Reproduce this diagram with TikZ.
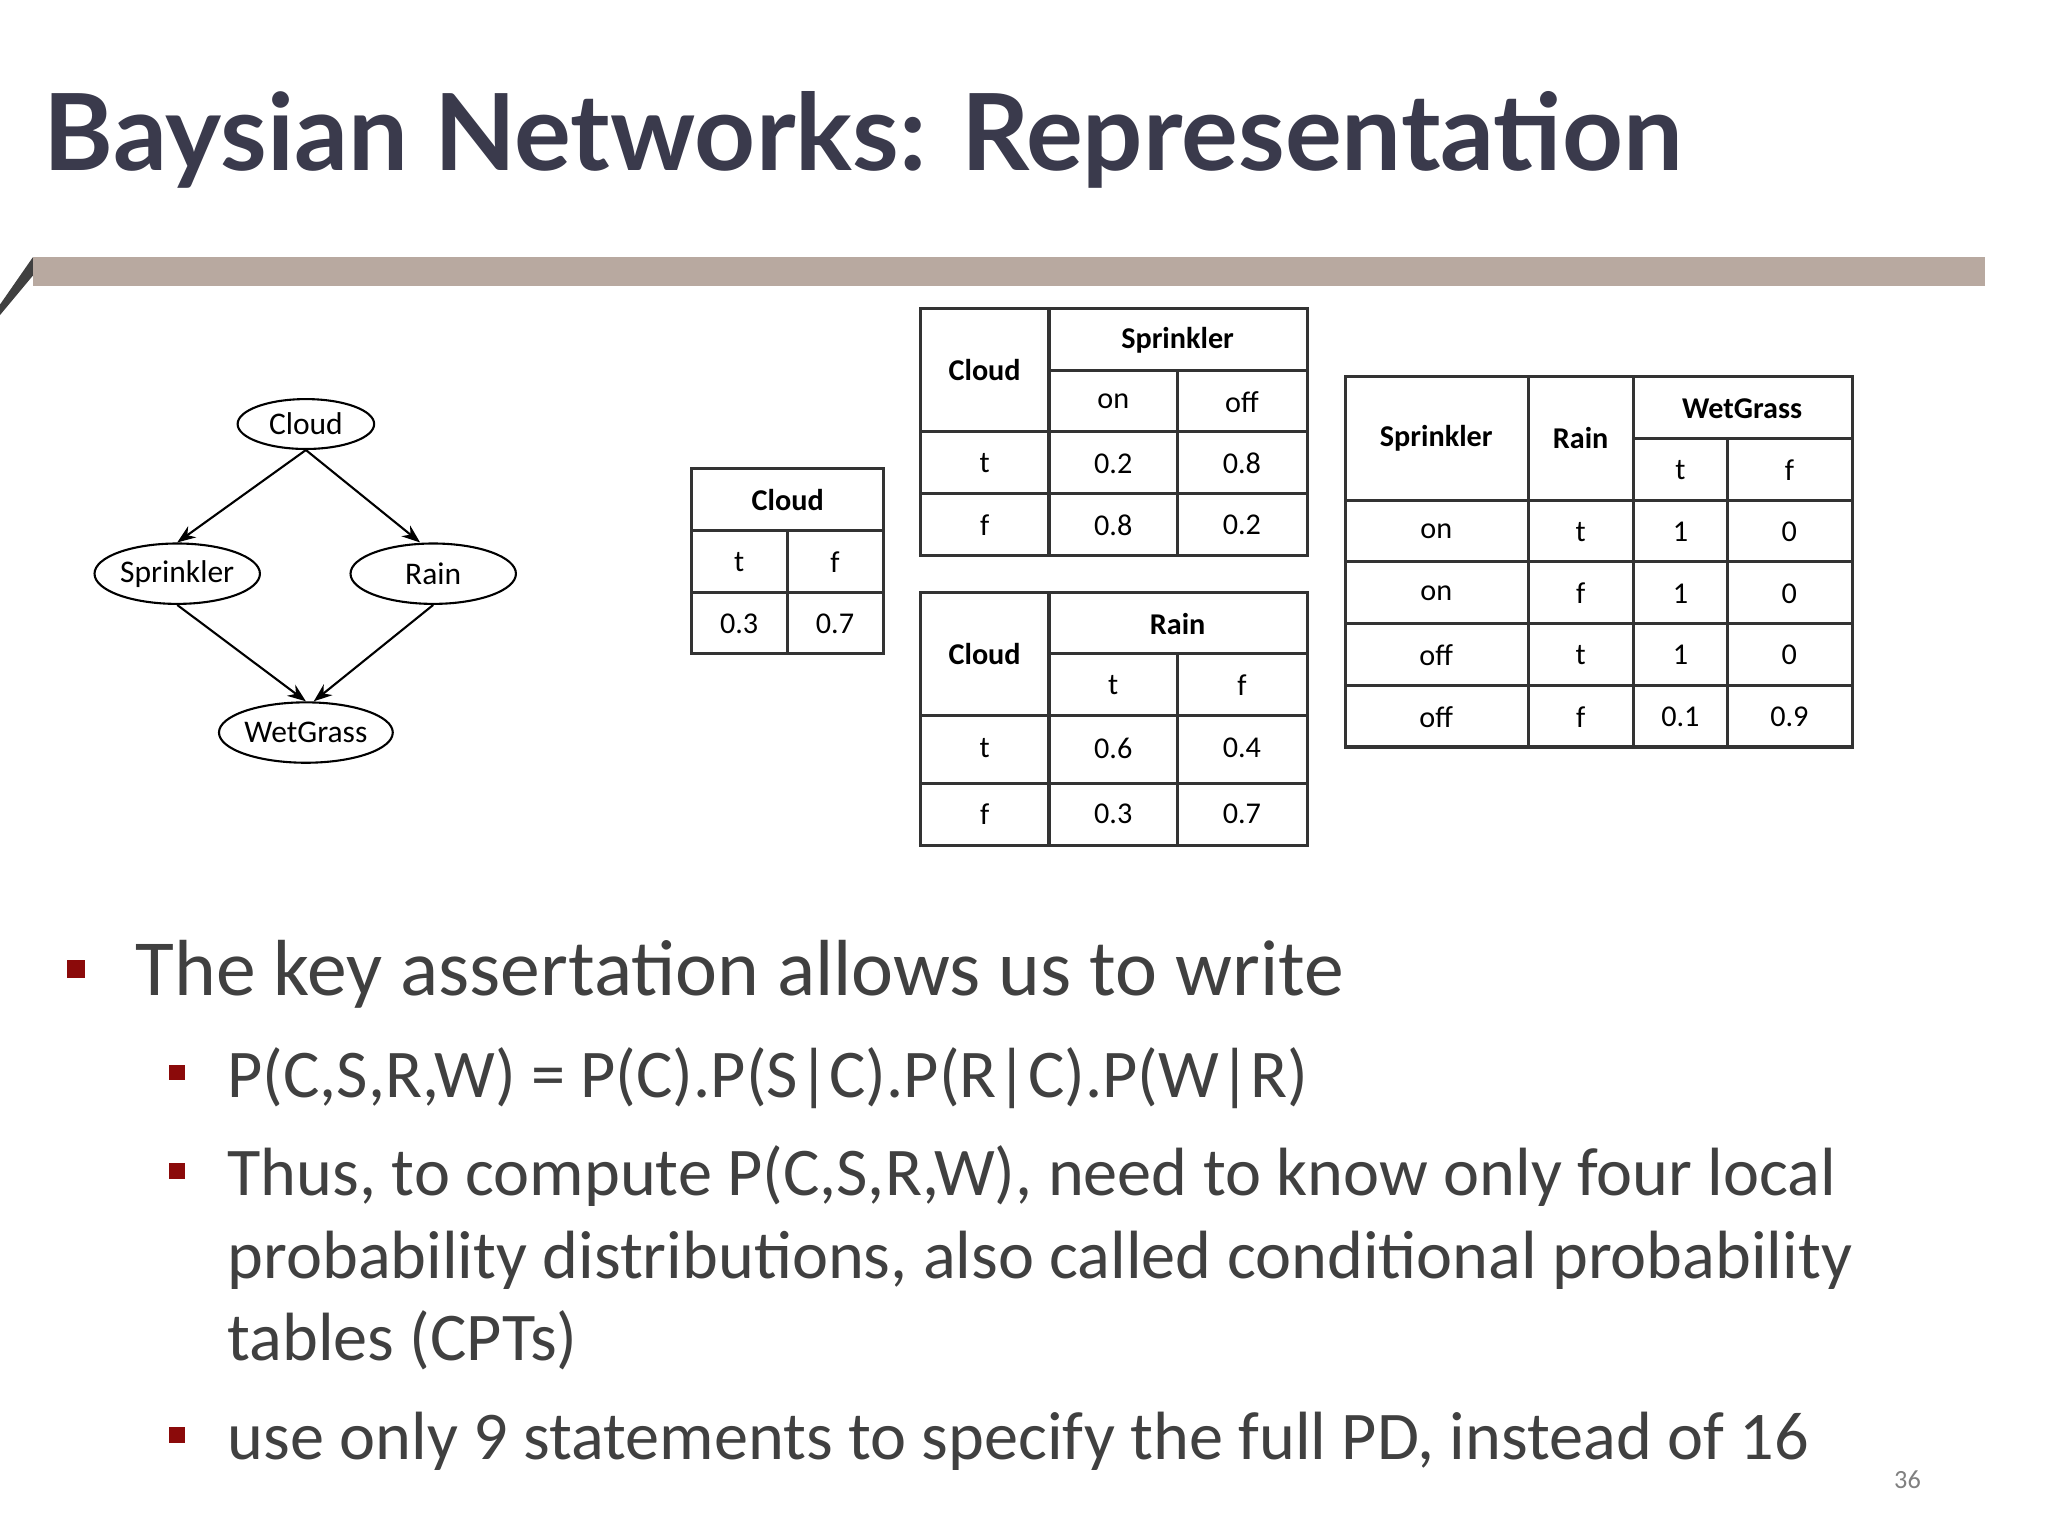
\documentclass[tikz,border=0pt]{standalone}
\usepackage{fontspec}
\setmainfont{Carlito}
\newfontfamily\titlefont{Lato}
\usetikzlibrary{arrows.meta,shapes.geometric}
\definecolor{titlec}{HTML}{3A3A4C}
\definecolor{barc}{HTML}{B8A9A0}
\definecolor{bulc}{HTML}{8B0A0A}
\definecolor{txtc}{HTML}{404040}
\tikzset{
 gnode/.style={draw,ellipse,thick,inner sep=0pt,font=\fontsize{12}{12}\selectfont},
 gedge/.style={thick,-{Stealth[length=7pt]}},
 tline/.style={draw=black!80,line width=1.2pt},
 tt/.style={font=\fontsize{11.5}{12}\selectfont},
 th/.style={font=\bfseries\fontsize{11.5}{12}\selectfont},
 bul/.style={fill=bulc,minimum size=7pt,inner sep=0pt},
 big/.style={anchor=base west,inner sep=0pt,text=txtc,font=\fontsize{30.3}{34}\selectfont},
 sub/.style={anchor=base west,inner sep=0pt,text=txtc,font=\fontsize{26}{30}\selectfont},
}
\begin{document}
\begin{tikzpicture}[x=0.5pt,y=-0.5pt]
\useasboundingbox[fill=white] (0,0) rectangle (1560,1170);
\node[anchor=base west,text=titlec,font=\titlefont\bfseries\fontsize{40.5}{44}\selectfont,inner sep=0] (title) at (33,130) {Baysian Networks: Representation};
\fill[barc] (25,196) rectangle (1512,218);
\fill[black!75] (0,232) -- (25,196) -- (25,210) -- (0,240) -- cycle;
% graph
\node[gnode,minimum width=52pt,minimum height=19pt] (c) at (233,323) {Cloud};
\node[gnode,minimum width=63pt,minimum height=23pt] (s) at (135,437) {Sprinkler};
\node[gnode,minimum width=63pt,minimum height=23pt] (r) at (330,437) {Rain};
\node[gnode,minimum width=63pt,minimum height=23pt] (w) at (233,558) {WetGrass};
\draw[gedge] (c.south) -- (s.north);
\draw[gedge] (c.south) -- ([xshift=-5pt]r.north);
\draw[gedge] (s.south) -- (w.north);
\draw[gedge] (r.south) -- ([xshift=3pt]w.north);
% Cloud table
\draw[tline] (527,357) rectangle (673,498);
\draw[tline] (527,404)--(673,404) (527,451)--(673,451) (600,404)--(600,498);
\node[th] (c1) at (600,381) {Cloud};
\node[tt] at (563,428) {t}; \node[tt] at (636,428) {f};
\node[tt] at (563,475) {0.3}; \node[tt] at (636,475) {0.7};
% Sprinkler table
\draw[tline] (701,235) rectangle (996,423);
\draw[tline] (799,235)--(799,423) (897,282)--(897,423) (799,282)--(996,282) (701,329)--(996,329) (701,376)--(996,376);
\node[th] at (750,282) {Cloud}; \node[th] at (897,259) {Sprinkler};
\node[tt] at (848,306) {on}; \node[tt] at (946,306) {off};
\node[tt] at (750,353) {t}; \node[tt] at (848,353) {0.2}; \node[tt] at (946,353) {0.8};
\node[tt] at (750,400) {f}; \node[tt] at (848,400) {0.8}; \node[tt] at (946,400) {0.2};
% Rain table
\draw[tline] (701,451) rectangle (996,644);
\draw[tline] (799,451)--(799,644) (897,498)--(897,644) (799,498)--(996,498) (701,545)--(996,545) (701,597)--(996,597);
\node[th] at (750,498) {Cloud}; \node[th] at (897,475) {Rain};
\node[tt] at (848,522) {t}; \node[tt] at (946,522) {f};
\node[tt] at (750,570) {t}; \node[tt] at (848,570) {0.6}; \node[tt] at (946,570) {0.4};
\node[tt] at (750,620) {f}; \node[tt] at (848,620) {0.3}; \node[tt] at (946,620) {0.7};
% WetGrass table
\draw[tline] (1025,287) rectangle (1411,569);
\draw[tline] (1164,287)--(1164,569) (1244,287)--(1244,569) (1316,334)--(1316,569) (1244,334)--(1411,334);
\foreach \y in {381,428,475,522} \draw[tline] (1025,\y)--(1411,\y);
\node[th] at (1094,334) {Sprinkler}; \node[th] at (1204,334) {Rain}; \node[th] at (1327,311) {WetGrass};
\node[tt] at (1280,358) {t}; \node[tt] at (1363,358) {f};
\foreach \y/\a/\b/\c/\d in {405/on/t/1/0,452/on/f/1/0,499/off/t/1/0,546/off/f/0.1/0.9}{
 \node[tt] at (1094,\y) {\a}; \node[tt] at (1204,\y) {\b}; \node[tt] at (1280,\y) {\c}; \node[tt] at (1363,\y) {\d};}
% bullets
\node[bul] (b0) at (58,738) {};
\node[big] (t0) at (103,758) {The key assertation allows us to write};
\node[bul,minimum size=6pt] (b1) at (135,817) {};
\node[sub] (t1) at (173,836) {P(C,S,R,W) = P(C).P(S|C).P(R|C).P(W|R)};
\node[bul,minimum size=6pt] (b2) at (135,892) {};
\node[sub] (t2) at (173,911) {Thus, to compute P(C,S,R,W), need to know only four local};
\node[sub] (t3) at (173,974) {probability distributions, also called conditional probability};
\node[sub] (t4) at (173,1036) {tables (CPTs)};
\node[bul,minimum size=6pt] (b3) at (135,1093) {};
\node[sub] (t5) at (173,1112) {use only 9 statements to specify the full PD, instead of 16};
\node[text=black!50,font=\fontsize{10}{10}\selectfont] (pn) at (1453,1127) {36};
\end{tikzpicture}
\end{document}
